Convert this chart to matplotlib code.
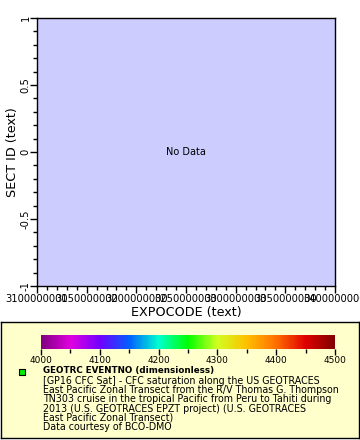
import matplotlib
matplotlib.use("Agg")
import matplotlib.pyplot as plt
import numpy as np
from matplotlib.colors import LinearSegmentedColormap, Normalize
from matplotlib.ticker import MultipleLocator, FuncFormatter
import matplotlib.colorbar as mcolorbar

# datos (no hay datos en la figura original)
expocode = []
sect_id = []
eventno = []

x_range = [3100000000, 3400000000]
y_range = [-1, 1]
cbar_range = [4000, 4500]

legend_title = "GEOTRC EVENTNO (dimensionless)"
legend_lines = [
    "[GP16 CFC Sat] - CFC saturation along the US GEOTRACES",
    "East Pacific Zonal Transect from the R/V Thomas G. Thompson",
    "TN303 cruise in the tropical Pacific from Peru to Tahiti during",
    "2013 (U.S. GEOTRACES EPZT project) (U.S. GEOTRACES",
    "East Pacific Zonal Transect)",
    "Data courtesy of BCO-DMO",
]

cmap_colors = ["#800080", "#e000e0", "#7000ff", "#0060ff", "#00ffd0",
               "#00ff00", "#d0ff20", "#ffc000", "#ff7000", "#e00000", "#800000"]
cmap = LinearSegmentedColormap.from_list("rainbow_ferret", cmap_colors)

fig = plt.figure(figsize=(3.6, 4.4), dpi=100)

# grafico principal
ax = fig.add_axes([37 / 360, 1 - 286 / 440, 298 / 360, 268 / 440])
ax.set_facecolor("#ccccff")
ax.scatter(expocode, sect_id, c=eventno, cmap=cmap, vmin=cbar_range[0], vmax=cbar_range[1])
ax.set_xlim(x_range)
ax.set_ylim(y_range)
ax.xaxis.set_major_locator(MultipleLocator(50000000))
ax.xaxis.set_minor_locator(MultipleLocator(10000000))
ax.yaxis.set_major_locator(MultipleLocator(0.5))
ax.yaxis.set_minor_locator(MultipleLocator(0.1))
ax.xaxis.set_major_formatter(FuncFormatter(lambda v, p: "%d" % round(v)))
ax.yaxis.set_major_formatter(FuncFormatter(lambda v, p: ("%g" % v)))
ax.tick_params(axis="both", which="major", length=5, width=1, labelsize=7.2, pad=1)
ax.tick_params(axis="y", which="major", pad=-0.5)
ax.tick_params(axis="both", which="minor", length=3, width=1)
for lab in ax.get_yticklabels():
    lab.set_rotation(90)
    lab.set_va("center")
for s in ax.spines.values():
    s.set_linewidth(1)
ax.set_xlabel("EXPOCODE (text)", fontsize=9.2, labelpad=1)
ax.set_ylabel("SECT ID (text)", fontsize=9.2, labelpad=1.2)
ax.text(0.5, 0.5, "No Data", transform=ax.transAxes, ha="center", va="center", fontsize=7)

# caja de leyenda
box = fig.add_axes([1 / 360, 1 - 438 / 440, 358 / 360, 116 / 440])
box.set_facecolor("#ffffcc")
box.set_xticks([])
box.set_yticks([])
box.set_xlim(1, 359)
box.set_ylim(438, 322)
for s in box.spines.values():
    s.set_linewidth(1)

box.scatter([21.5], [372.5], marker="s", s=14, color="#00ee00", edgecolors="black", linewidths=0.8)
box.text(43, 371, legend_title, fontsize=6.3, fontweight="bold", va="center")
for i, line in enumerate(legend_lines):
    box.text(43, 381 + i * 9.25, line, fontsize=6.85, va="center")

# barra de color
cax = fig.add_axes([41 / 360, 1 - 349 / 440, 294 / 360, 14 / 440])
cb = mcolorbar.ColorbarBase(cax, cmap=cmap, norm=Normalize(*cbar_range), orientation="horizontal")
cb.outline.set_visible(False)
cb.set_ticks(np.arange(4000, 4501, 100))
cax.xaxis.set_minor_locator(MultipleLocator(50))
cax.tick_params(which="major", length=4, width=1, labelsize=6.5, pad=1)
cax.tick_params(which="minor", length=3, width=1)

fig.savefig("out.png", dpi=100)
